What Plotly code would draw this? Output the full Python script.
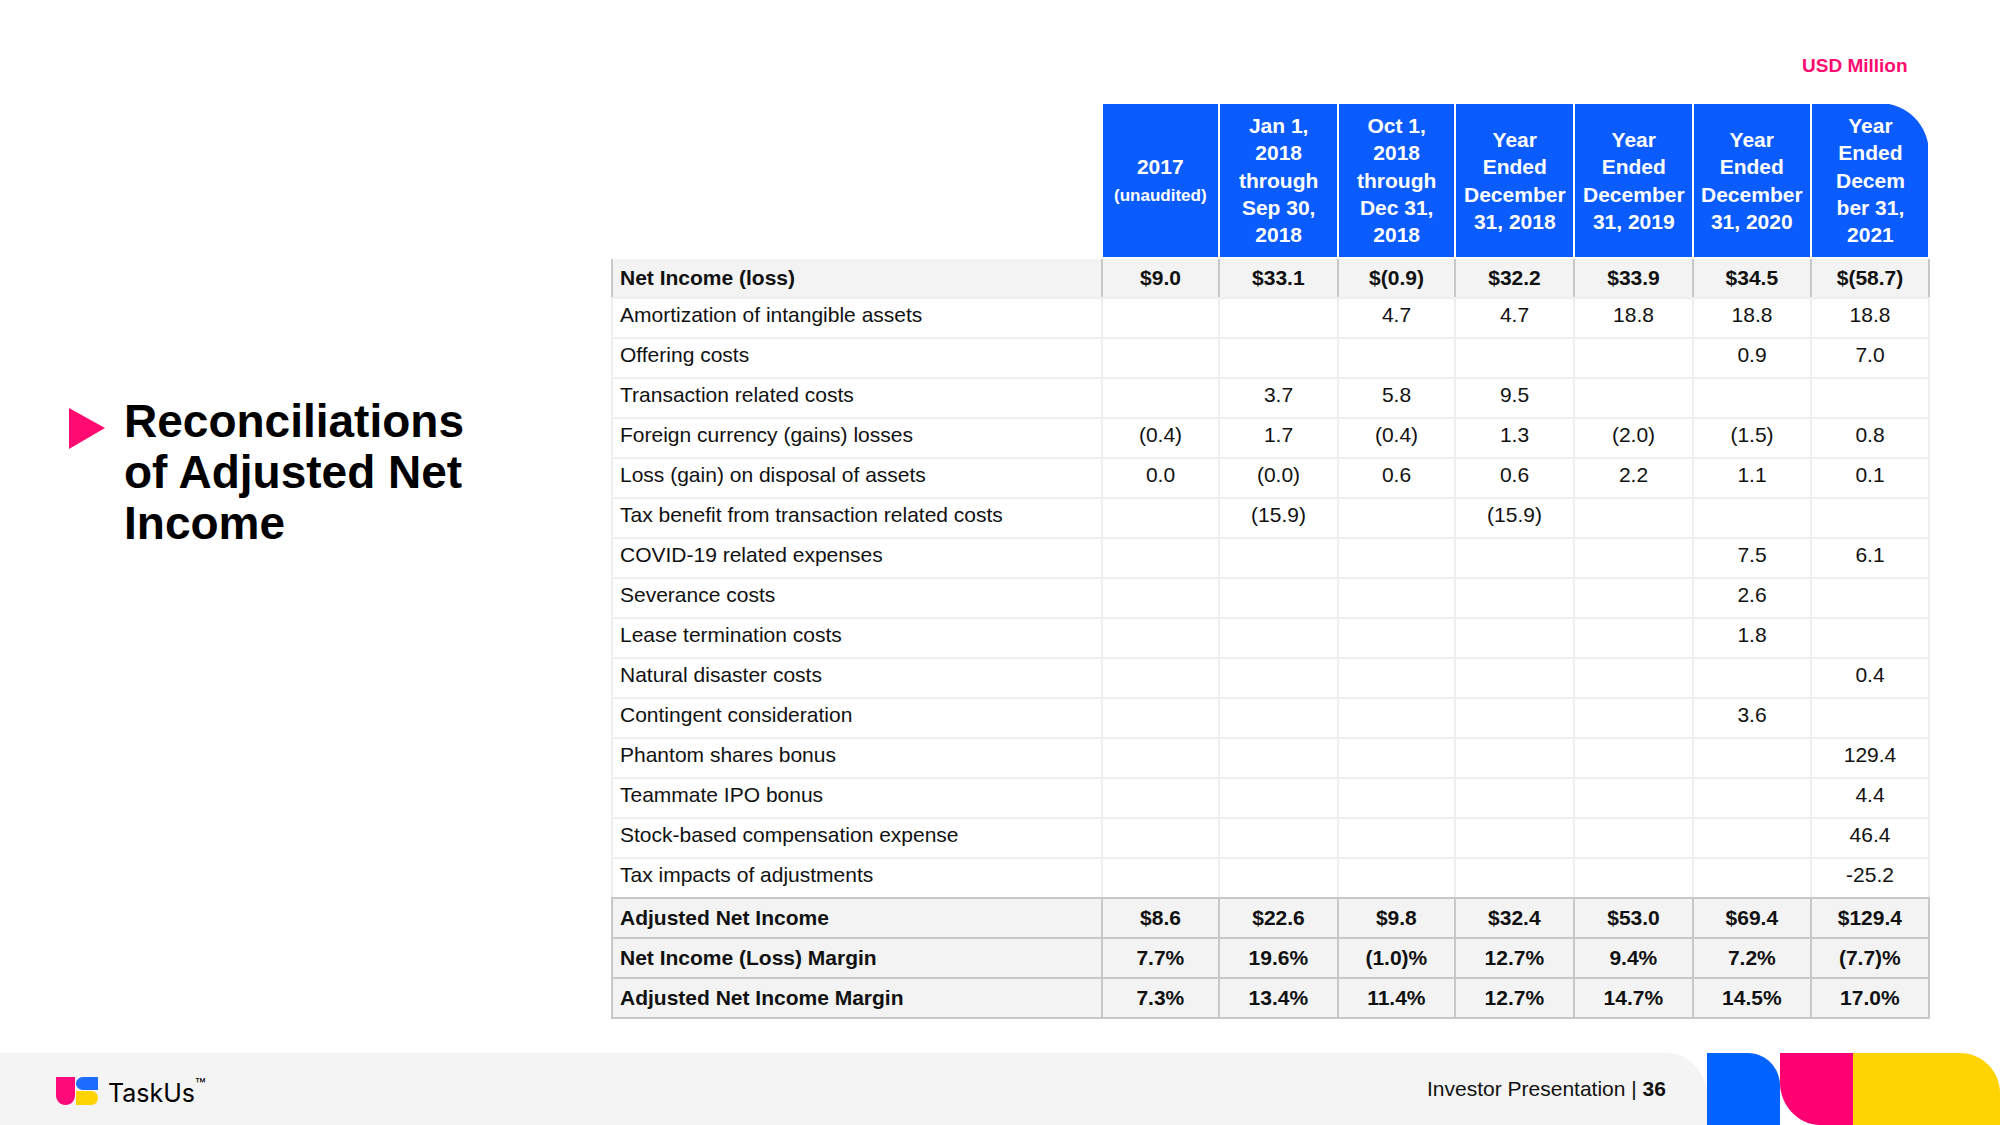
import plotly.graph_objects as go

W, H = 2000, 1125

# ---- data ----
col_headers = [
    [],
    ["2017", "<span style='font-size:17px'>(unaudited)</span>"],
    ["Jan 1,", "2018", "through", "Sep 30,", "2018"],
    ["Oct 1,", "2018", "through", "Dec 31,", "2018"],
    ["Year", "Ended", "December", "31, 2018"],
    ["Year", "Ended", "December", "31, 2019"],
    ["Year", "Ended", "December", "31, 2020"],
    ["Year", "Ended", "Decem", "ber 31,", "2021"],
]

row_labels = [
    "Net Income (loss)",
    "Amortization of intangible assets",
    "Offering costs",
    "Transaction related costs",
    "Foreign currency (gains) losses",
    "Loss (gain) on disposal of assets",
    "Tax benefit from transaction related costs",
    "COVID-19 related expenses",
    "Severance costs",
    "Lease termination costs",
    "Natural disaster costs",
    "Contingent consideration",
    "Phantom shares bonus",
    "Teammate IPO bonus",
    "Stock-based compensation expense",
    "Tax impacts of adjustments",
    "Adjusted Net Income",
    "Net Income (Loss) Margin",
    "Adjusted Net Income Margin",
]

net_income = ["$9.0", "$33.1", "$(0.9)", "$32.2", "$33.9", "$34.5", "$(58.7)"]
amortization = ["", "", "4.7", "4.7", "18.8", "18.8", "18.8"]
offering = ["", "", "", "", "", "0.9", "7.0"]
transaction = ["", "3.7", "5.8", "9.5", "", "", ""]
fx_losses = ["(0.4)", "1.7", "(0.4)", "1.3", "(2.0)", "(1.5)", "0.8"]
disposal = ["0.0", "(0.0)", "0.6", "0.6", "2.2", "1.1", "0.1"]
tax_benefit = ["", "(15.9)", "", "(15.9)", "", "", ""]
covid = ["", "", "", "", "", "7.5", "6.1"]
severance = ["", "", "", "", "", "2.6", ""]
lease_term = ["", "", "", "", "", "1.8", ""]
disaster = ["", "", "", "", "", "", "0.4"]
contingent = ["", "", "", "", "", "3.6", ""]
phantom = ["", "", "", "", "", "", "129.4"]
ipo_bonus = ["", "", "", "", "", "", "4.4"]
stock_comp = ["", "", "", "", "", "", "46.4"]
tax_impacts = ["", "", "", "", "", "", "-25.2"]
adj_net_income = ["$8.6", "$22.6", "$9.8", "$32.4", "$53.0", "$69.4", "$129.4"]
ni_margin = ["7.7%", "19.6%", "(1.0)%", "12.7%", "9.4%", "7.2%", "(7.7)%"]
adj_margin = ["7.3%", "13.4%", "11.4%", "12.7%", "14.7%", "14.5%", "17.0%"]

rows = [net_income, amortization, offering, transaction, fx_losses, disposal,
        tax_benefit, covid, severance, lease_term, disaster, contingent,
        phantom, ipo_bonus, stock_comp, tax_impacts, adj_net_income,
        ni_margin, adj_margin]
bold_rows = {0, 16, 17, 18}

col_widths = [490, 117, 119, 117, 119, 119, 118, 118]

BLUE = "#0B5CFF"
PINK = "#FF0A70"
YELLOW = "#FFD400"

TABLE_LEFT, TABLE_TOP, HEADER_H, ROW_H = 612, 103, 155, 40


def px(x):
    return x / W


def py(y):
    return 1 - y / H


# build column-major cell values with bold rows
n_cols = len(col_headers)
cell_values = []
for c in range(n_cols):
    col = []
    for r, lab in enumerate(row_labels):
        v = lab if c == 0 else rows[r][c - 1]
        col.append(f"<b>{v}</b>" if (r in bold_rows and v) else v)
    cell_values.append(col)

fill_cols = [["#f3f3f3" if r in bold_rows else "white" for r in range(len(row_labels))]
             for _ in range(n_cols)]
line_cols = [["#c8c8c8" if r in bold_rows else "#efefef" for r in range(len(row_labels))]
             for _ in range(n_cols)]

table_right = TABLE_LEFT + sum(col_widths)
fig = go.Figure(go.Table(
    domain=dict(x=[px(TABLE_LEFT), px(table_right)], y=[0.02, py(TABLE_TOP)]),
    columnwidth=col_widths,
    header=dict(
        values=[""] * n_cols,
        fill_color=["white"] + [BLUE] * 7,
        line=dict(color="white", width=2),
        height=HEADER_H,
    ),
    cells=dict(
        values=cell_values,
        fill_color=fill_cols,
        line=dict(color=line_cols, width=2),
        align=["left"] + ["center"] * 7,
        height=ROW_H,
        font=dict(family="Liberation Sans", size=21, color="#111111"),
    ),
))

annotations = []
# header labels, centred in each blue header cell
left = TABLE_LEFT
for w, lines in zip(col_widths, col_headers):
    if lines:
        annotations.append(dict(
            text="<br>".join(f"<b>{s}</b>" for s in lines),
            x=px(left + w / 2), y=py(TABLE_TOP + HEADER_H / 2), xref="paper", yref="paper",
            xanchor="center", yanchor="middle", align="center", showarrow=False,
            font=dict(family="Liberation Sans", size=21, color="white"),
        ))
    left += w

shapes = []
# rounded top-right corner of the header
shapes.append(dict(
    type="path", xref="paper", yref="paper", layer="above",
    path=(f"M {px(1879)},{py(100)} L {px(1932)},{py(100)} L {px(1932)},{py(153)} "
          f"L {px(1929)},{py(153)} C {px(1929)},{py(125)} {px(1907)},{py(103)} {px(1879)},{py(103)} Z"),
    fillcolor="white", line=dict(width=0),
))
# pointer triangle
shapes.append(dict(
    type="path", xref="paper", yref="paper",
    path=f"M {px(69)},{py(408)} L {px(105)},{py(428)} L {px(69)},{py(449)} Z",
    fillcolor=PINK, line=dict(width=0),
))
# footer band
shapes.append(dict(
    type="path", xref="paper", yref="paper", layer="below",
    path=(f"M 0,{py(1053)} L {px(1667)},{py(1053)} C {px(1690)},{py(1053)} {px(1707)},{py(1075)} "
          f"{px(1707)},{py(1095)} L {px(1707)},0 L 0,0 Z"),
    fillcolor="#f4f4f4", line=dict(width=0),
))
# footer decoration blocks
shapes.append(dict(
    type="path", xref="paper", yref="paper",
    path=(f"M {px(1707)},{py(1053)} L {px(1748)},{py(1053)} C {px(1766)},{py(1053)} {px(1780)},{py(1068)} "
          f"{px(1780)},{py(1086)} L {px(1780)},0 L {px(1707)},0 Z"),
    fillcolor="#0062FF", line=dict(width=0),
))
shapes.append(dict(
    type="path", xref="paper", yref="paper",
    path=(f"M {px(1780)},{py(1053)} L {px(1853)},{py(1053)} L {px(1853)},0 L {px(1820)},0 "
          f"C {px(1798)},0 {px(1780)},{py(1105)} {px(1780)},{py(1083)} Z"),
    fillcolor="#FF0073", line=dict(width=0),
))
shapes.append(dict(
    type="path", xref="paper", yref="paper",
    path=(f"M {px(1853)},{py(1053)} L {px(1960)},{py(1053)} C {px(1982)},{py(1053)} {px(2000)},{py(1071)} "
          f"{px(2000)},{py(1093)} L {px(2000)},0 L {px(1853)},0 Z"),
    fillcolor=YELLOW, line=dict(width=0),
))
# TaskUs logo mark
shapes.append(dict(
    type="path", xref="paper", yref="paper",
    path=(f"M {px(56)},{py(1077)} L {px(75)},{py(1077)} L {px(75)},{py(1095)} "
          f"C {px(75)},{py(1101)} {px(71)},{py(1105)} {px(65.5)},{py(1105)} "
          f"C {px(60)},{py(1105)} {px(56)},{py(1101)} {px(56)},{py(1095)} Z"),
    fillcolor="#FF0A78", line=dict(width=0),
))
shapes.append(dict(
    type="path", xref="paper", yref="paper",
    path=(f"M {px(83)},{py(1077)} L {px(98)},{py(1077)} L {px(98)},{py(1090)} L {px(83)},{py(1090)} "
          f"C {px(79)},{py(1090)} {px(76)},{py(1087)} {px(76)},{py(1083.5)} "
          f"C {px(76)},{py(1080)} {px(79)},{py(1077)} {px(83)},{py(1077)} Z"),
    fillcolor="#1E6BFF", line=dict(width=0),
))
shapes.append(dict(
    type="path", xref="paper", yref="paper",
    path=(f"M {px(76)},{py(1091)} L {px(91)},{py(1091)} C {px(95)},{py(1091)} {px(98)},{py(1094)} "
          f"{px(98)},{py(1098)} C {px(98)},{py(1102)} {px(95)},{py(1105)} {px(91)},{py(1105)} "
          f"L {px(76)},{py(1105)} Z"),
    fillcolor=YELLOW, line=dict(width=0),
))

title_lines = ["Reconciliations", "of Adjusted Net", "Income"]
for i, t in enumerate(title_lines):
    annotations.append(dict(
        text=f"<b>{t}</b>", x=px(122), y=py(421 + 51 * i), xref="paper", yref="paper",
        xanchor="left", yanchor="middle", showarrow=False,
        font=dict(family="Liberation Sans", size=46, color="black"),
    ))
annotations.append(dict(
    text="<b>USD Million</b>", x=px(1910), y=py(66), xref="paper", yref="paper",
    xanchor="right", yanchor="middle", showarrow=False,
    font=dict(family="Liberation Sans", size=19, color=PINK),
))
annotations.append(dict(
    text="Investor Presentation | <b>36</b>", x=px(1668), y=py(1088), xref="paper", yref="paper",
    xanchor="right", yanchor="middle", showarrow=False,
    font=dict(family="Liberation Sans", size=21, color="#111111"),
))
annotations.append(dict(
    text="TaskUs<sup>™</sup>", x=px(106), y=py(1091), xref="paper", yref="paper",
    xanchor="left", yanchor="middle", showarrow=False,
    font=dict(family="Inter", size=25, color="black"),
))

fig.update_layout(
    width=W, height=H,
    margin=dict(l=0, r=0, t=0, b=0),
    paper_bgcolor="white",
    shapes=shapes,
    annotations=annotations,
)

fig.write_html("out.html", config={"displayModeBar": False},
               post_script="document.body.style.margin='0';")
